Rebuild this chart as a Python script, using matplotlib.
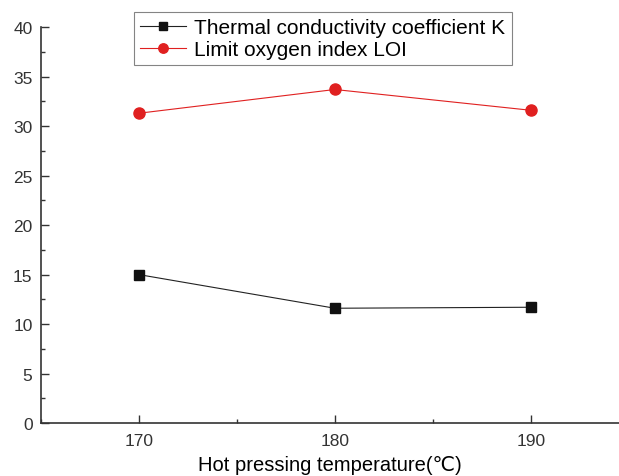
import matplotlib
matplotlib.use('Agg')
import matplotlib.pyplot as plt
from matplotlib.ticker import MultipleLocator

plt.rcParams['font.family'] = ['Liberation Sans', 'DejaVu Sans', 'Noto Sans CJK SC']

temps = [170, 180, 190]
k_vals = [15.0, 11.6, 11.7]
loi_vals = [31.3, 33.7, 31.6]

fig = plt.figure(figsize=(6.19, 4.77), dpi=100)
ax = fig.add_axes([0.066, 0.111, 0.934, 0.830])

ax.plot(temps, k_vals, color='#222222', lw=0.8, marker='s', ms=6.5,
        mfc='#111111', mec='#111111', label='Thermal conductivity coefficient K')
ax.plot(temps, loi_vals, color='#e02020', lw=0.8, marker='o', ms=8,
        mfc='#e02020', mec='#e02020', label='Limit oxygen index LOI')

ax.set_xlim(165, 194.5)
ax.set_ylim(0, 40)
ax.set_xticks(temps)
ax.xaxis.set_minor_locator(MultipleLocator(5))
ax.yaxis.set_major_locator(MultipleLocator(5))
ax.yaxis.set_minor_locator(MultipleLocator(2.5))
ax.tick_params(which='major', direction='in', length=6, width=1, labelsize=12.5, colors='#333333')
ax.tick_params(which='minor', direction='in', length=3, width=1, colors='#333333')
ax.tick_params(axis='x', pad=7)
ax.tick_params(axis='y', pad=6)
ax.spines['top'].set_visible(False)
ax.spines['right'].set_visible(False)
for s in ['left', 'bottom']:
    ax.spines[s].set_linewidth(1.2)
    ax.spines[s].set_color('#333333')

ax.set_xlabel('Hot pressing temperature(℃)', fontsize=14.5, labelpad=5)

leg = ax.legend(loc='upper left', bbox_to_anchor=(0.161, 1.038), fontsize=15,
                frameon=True, fancybox=False, edgecolor='#666666',
                handlelength=2.2, handletextpad=0.4, borderpad=0.3,
                labelspacing=0.12, borderaxespad=0, markerscale=0.85)
leg.get_frame().set_linewidth(0.8)

fig.savefig('out.png', dpi=100)
